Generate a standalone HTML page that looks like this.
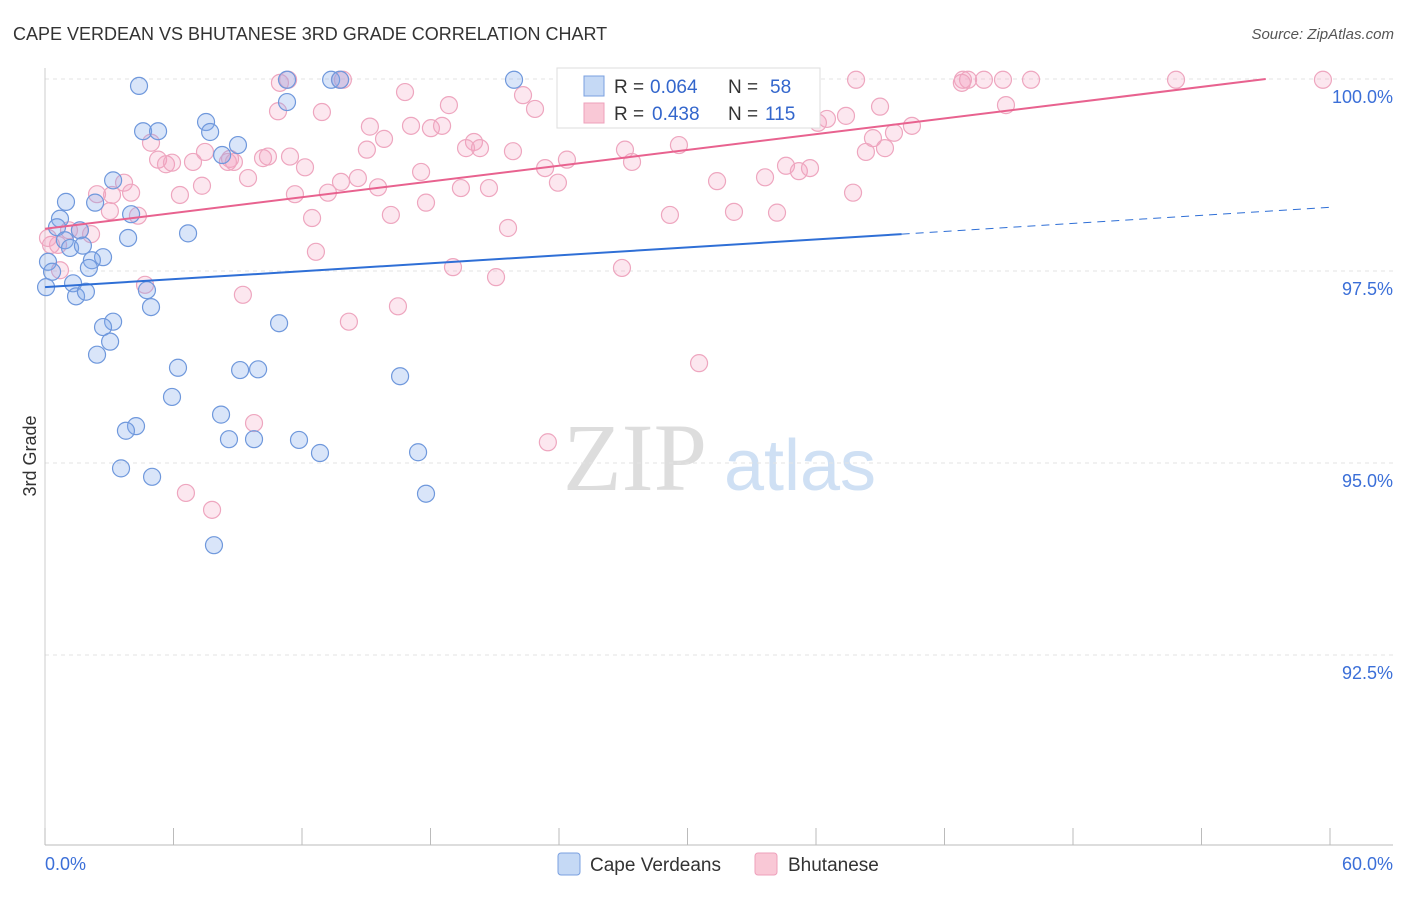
<!DOCTYPE html>
<html><head><meta charset="utf-8">
<style>
body{margin:0;background:#fff;font-family:"Liberation Sans",sans-serif;}
svg text{font-family:"Liberation Sans",sans-serif;}
</style></head>
<body>
<svg id="chart" width="1406" height="892" xmlns="http://www.w3.org/2000/svg">
<text x="13" y="40" font-size="18" fill="#333">CAPE VERDEAN VS BHUTANESE 3RD GRADE CORRELATION CHART</text>
<text x="1394" y="39" font-size="15" fill="#555" text-anchor="end" font-style="italic">Source: ZipAtlas.com</text>
<text x="36" y="456" font-size="18" fill="#333" text-anchor="middle" transform="rotate(-90 36 456)">3rd Grade</text>
<g>
<text x="635" y="490" font-size="96" fill="#ddd" text-anchor="middle" style="font-family:'Liberation Serif',serif">ZIP</text>
<text x="800" y="490" font-size="72" fill="#cfe0f4" text-anchor="middle">atlas</text>
</g>
<g id="grid"></g>
<g id="axes"></g>
<g id="pts"></g>
<g id="lines"></g>
<g>
<rect x="557" y="68" width="263" height="60" fill="#fff" stroke="#ddd"/>
<rect x="584" y="76" width="20" height="20" fill="#c5d9f5" stroke="#7aa0e0"/>
<text x="614" y="93" font-size="19" fill="#333">R =</text>
<text x="650" y="93" font-size="19" fill="#3366cc">0.064</text>
<text x="728" y="93" font-size="19" fill="#333">N =</text>
<text x="770" y="93" font-size="19" fill="#3366cc">58</text>
<rect x="584" y="103" width="20" height="20" fill="#f9c8d6" stroke="#eea0bb"/>
<text x="614" y="120" font-size="19" fill="#333">R =</text>
<text x="652" y="120" font-size="19" fill="#3366cc">0.438</text>
<text x="728" y="120" font-size="19" fill="#333">N =</text>
<text x="765" y="120" font-size="19" fill="#3366cc">115</text>
</g>
<g>
<rect x="558" y="853" width="22" height="22" rx="3" fill="#c5d9f5" stroke="#7aa0e0"/>
<text x="590" y="871" font-size="19" fill="#333">Cape Verdeans</text>
<rect x="755" y="853" width="22" height="22" rx="3" fill="#f9c8d6" stroke="#eea0bb"/>
<text x="788" y="871" font-size="19" fill="#333">Bhutanese</text>
</g>
</svg>
<script>
const yTicks=[100,97.5,95,92.5];
const yTickLabels=["100.0%","97.5%","95.0%","92.5%"];
const xTickLabels=["0.0%","60.0%"];
const blueX=[4.39,11.30,13.36,13.78,21.90,11.30,4.58,5.28,7.52,7.71,9.01,8.27,3.18,0.98,2.34,4.02,0.70,0.56,1.63,6.68,3.88,0.93,1.17,1.77,2.71,2.19,2.05,0.14,0.33,0.05,1.31,1.45,1.91,4.76,4.95,3.18,2.71,10.93,3.04,2.43,6.21,9.11,9.95,16.58,5.93,8.22,4.25,3.78,8.59,9.76,11.86,12.84,17.42,3.55,5.00,17.79,7.89];
const blueY=[99.91,99.99,99.99,99.99,99.99,99.70,99.32,99.32,99.44,99.31,99.14,99.01,98.68,98.40,98.39,98.24,98.18,98.07,98.03,97.99,97.93,97.90,97.80,97.83,97.68,97.64,97.54,97.62,97.49,97.29,97.34,97.17,97.23,97.25,97.03,96.84,96.77,96.82,96.58,96.41,96.24,96.21,96.22,96.13,95.86,95.63,95.48,95.42,95.31,95.31,95.30,95.13,95.14,94.93,94.82,94.60,93.93];
const pinkX=[10.97,11.35,13.77,13.91,28.53,31.33,33.57,37.87,42.86,43.10,43.84,44.73,46.04,52.81,59.67,42.81,16.81,22.32,18.86,22.88,26.47,31.38,32.36,38.99,37.40,44.87,36.51,36.09,10.88,12.93,15.17,17.09,18.02,18.54,15.83,15.03,4.95,20.03,19.66,20.31,21.85,24.37,27.08,27.41,29.60,38.66,39.64,40.48,39.22,38.33,5.28,5.65,5.93,6.91,7.47,8.64,8.54,8.82,10.18,10.41,11.44,12.14,9.48,7.33,3.69,2.43,3.13,4.02,6.30,11.67,14.61,13.82,13.21,15.55,17.56,19.42,20.73,23.35,23.95,31.38,33.62,34.60,35.20,35.72,37.73,17.79,16.15,12.47,21.62,29.18,32.17,34.18,4.34,3.03,1.63,2.15,1.12,0.28,0.61,12.65,19.05,26.94,21.06,4.67,9.24,16.48,14.19,30.54,9.76,23.48,6.58,7.80,0.70,0.14];
const pinkY=[99.95,99.99,99.99,99.99,99.99,99.99,99.99,99.99,99.99,99.99,99.99,99.99,99.99,99.99,99.99,99.95,99.83,99.79,99.66,99.61,99.66,99.65,99.49,99.64,99.52,99.66,99.48,99.43,99.58,99.57,99.38,99.39,99.36,99.39,99.22,99.08,99.17,99.18,99.10,99.10,99.06,98.95,99.08,98.92,99.14,99.23,99.30,99.39,99.10,99.05,98.95,98.89,98.91,98.92,99.05,98.96,98.92,98.92,98.97,98.99,98.99,98.85,98.71,98.61,98.65,98.50,98.49,98.52,98.49,98.50,98.71,98.66,98.52,98.59,98.79,98.58,98.58,98.84,98.65,98.67,98.72,98.87,98.80,98.84,98.52,98.39,98.23,98.19,98.06,98.23,98.27,98.26,98.22,98.28,98.03,97.98,98.03,97.84,97.84,97.75,97.55,97.54,97.42,97.32,97.19,97.04,96.84,96.30,95.52,95.27,94.61,94.39,97.51,97.93];
const blueLine=[[0,97.29],[40,97.98],[60,98.33]];
const pinkLine=[[0,98.05],[57,100]];
const NS="http://www.w3.org/2000/svg";
const X0=45,X1=1330;
function sx(v){return X0+(v/60)*(X1-X0);}
function sy(v){return 79+(100-v)*76.8;}
function mk(tag,attrs,parent){const e=document.createElementNS(NS,tag);for(const k in attrs)e.setAttribute(k,attrs[k]);parent.appendChild(e);return e;}
const grid=document.getElementById('grid'),axes=document.getElementById('axes'),pts=document.getElementById('pts'),lines=document.getElementById('lines');
yTicks.forEach((t,i)=>{
 const l=mk('line',{x1:X0,x2:1393,y1:sy(t),y2:sy(t),stroke:'#e3e3e3','stroke-dasharray':'4 4'},grid);
 
 
 const tx=mk('text',{x:1393,y:sy(t)+24,'font-size':18,fill:'#3b6fd8','text-anchor':'end'},axes);
 tx.textContent=yTickLabels[i];
 
 
});
const ax=mk('line',{x1:X0,x2:1393,y1:845,y2:845,stroke:'#bbb'},axes);


const ay=mk('line',{x1:X0,x2:X0,y1:68,y2:845,stroke:'#ccc'},axes);


for(let i=0;i<=10;i++){
 const t=mk('line',{x1:sx(i*6),x2:sx(i*6),y1:828,y2:845,stroke:'#bbb'},axes);
 
 
}
const xl0=mk('text',{x:45,y:870,'font-size':18,fill:'#3b6fd8'},axes);xl0.textContent=xTickLabels[0];


const xl1=mk('text',{x:1393,y:870,'font-size':18,fill:'#3b6fd8','text-anchor':'end'},axes);xl1.textContent=xTickLabels[1];


pinkX.forEach((v,i)=>{
 const c=mk('circle',{cx:sx(v),cy:sy(pinkY[i]),r:8.5,fill:'rgba(244,160,190,0.25)',stroke:'#eea6bf','stroke-width':1.2},pts);
 
 
});
blueX.forEach((v,i)=>{
 const c=mk('circle',{cx:sx(v),cy:sy(blueY[i]),r:8.5,fill:'rgba(130,170,235,0.3)',stroke:'#6f98dc','stroke-width':1.2},pts);
 
 
});
const bl=mk('line',{x1:sx(blueLine[0][0]),y1:sy(blueLine[0][1]),x2:sx(blueLine[1][0]),y2:sy(blueLine[1][1]),stroke:'#2f6fd6','stroke-width':2},lines);


const bd=mk('line',{x1:sx(blueLine[1][0]),y1:sy(blueLine[1][1]),x2:sx(blueLine[2][0]),y2:sy(blueLine[2][1]),stroke:'#2f6fd6','stroke-width':1,'stroke-dasharray':'8 6'},lines);


const pl=mk('line',{x1:sx(pinkLine[0][0]),y1:sy(pinkLine[0][1]),x2:sx(pinkLine[1][0]),y2:sy(pinkLine[1][1]),stroke:'#e8628f','stroke-width':2},lines);


</script>
</body></html>
